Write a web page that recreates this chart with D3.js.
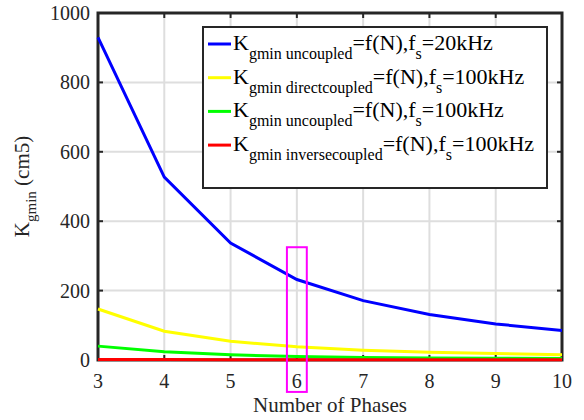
<!DOCTYPE html>
<html>
<head>
<meta charset="utf-8">
<script src="https://cdn.jsdelivr.net/npm/d3@7"></script>
<style>
  body { margin: 0; background: #fff; }
  svg text { font-family: "Liberation Serif", "DejaVu Serif", serif; }
</style>
</head>
<body>
<svg id="chart" width="584" height="420"></svg>
<script>
// Chart data
const phases = [3, 4, 5, 6, 7, 8, 9, 10];
const uncoupled20k = [930, 527, 337, 232, 171, 131, 104, 85];
const direct100k = [147, 83, 54, 38, 28, 22, 19, 15];
const uncoupled100k = [40, 24, 15, 10, 7, 6, 5, 4];
const inverse100k = [1.5, 1.2, 1, 0.9, 0.8, 0.7, 0.6, 0.6];
const xTicks = [3, 4, 5, 6, 7, 8, 9, 10];
const yTicks = [0, 200, 400, 600, 800, 1000];
const highlightBox = { x0: 5.85, x1: 6.15, y0: -92, y1: 325 };

const series = [
  { values: uncoupled20k, color: "#0000ff", sub: "gmin uncoupled", fs: "20kHz" },
  { values: direct100k, color: "#ffff00", sub: "gmin directcoupled", fs: "100kHz" },
  { values: uncoupled100k, color: "#00ff00", sub: "gmin uncoupled", fs: "100kHz" },
  { values: inverse100k, color: "#ff0000", sub: "gmin inversecoupled", fs: "100kHz" }
];

const svg = d3.select("#chart");
const pLeft = 98, pRight = 562, pTop = 13, pBottom = 360;

const x = d3.scaleLinear().domain([3, 10]).range([pLeft, pRight]);
const y = d3.scaleLinear().domain([0, 1000]).range([pBottom, pTop]);

// Grid lines
svg.append("g")
  .selectAll("line")
  .data(xTicks)
  .join("line")
  .attr("x1", d => x(d)).attr("x2", d => x(d))
  .attr("y1", pTop).attr("y2", pBottom)
  .attr("stroke", "#dedede").attr("stroke-width", 2);

svg.append("g")
  .selectAll("line")
  .data(yTicks)
  .join("line")
  .attr("x1", pLeft).attr("x2", pRight)
  .attr("y1", d => y(d)).attr("y2", d => y(d))
  .attr("stroke", "#dedede").attr("stroke-width", 2);

// Tick marks (inside, mirrored on all sides)
const tk = 5;
const ticks = svg.append("g").attr("stroke", "#262626").attr("stroke-width", 2);
xTicks.forEach(d => {
  ticks.append("line").attr("x1", x(d)).attr("x2", x(d)).attr("y1", pBottom).attr("y2", pBottom - tk);
  ticks.append("line").attr("x1", x(d)).attr("x2", x(d)).attr("y1", pTop).attr("y2", pTop + tk);
});
yTicks.forEach(d => {
  ticks.append("line").attr("x1", pLeft).attr("x2", pLeft + tk).attr("y1", y(d)).attr("y2", y(d));
  ticks.append("line").attr("x1", pRight).attr("x2", pRight - tk).attr("y1", y(d)).attr("y2", y(d));
});

// Frame
svg.append("rect")
  .attr("x", pLeft).attr("y", pTop)
  .attr("width", pRight - pLeft).attr("height", pBottom - pTop)
  .attr("fill", "none")
  .attr("stroke", "#262626")
  .attr("stroke-width", 3);

// Lines (drawn over the frame, like the original)
const line = d3.line()
  .x((d, i) => x(phases[i]))
  .y(d => y(d));

series.forEach(s => {
  svg.append("path")
    .datum(s.values)
    .attr("fill", "none")
    .attr("stroke", s.color)
    .attr("stroke-width", 3)
    .attr("d", line);
});

// Highlight rectangle
svg.append("rect")
  .attr("x", x(highlightBox.x0))
  .attr("y", y(highlightBox.y1))
  .attr("width", x(highlightBox.x1) - x(highlightBox.x0))
  .attr("height", y(highlightBox.y0) - y(highlightBox.y1))
  .attr("fill", "none")
  .attr("stroke", "#ff00ff")
  .attr("stroke-width", 2);

// Tick labels
svg.append("g")
  .selectAll("text")
  .data(xTicks)
  .join("text")
  .attr("x", d => x(d))
  .attr("y", pBottom + 28)
  .attr("text-anchor", "middle")
  .attr("font-size", 20)
  .attr("fill", "#262626")
  .text(d => d);

svg.append("g")
  .selectAll("text")
  .data(yTicks)
  .join("text")
  .attr("x", pLeft - 8)
  .attr("y", d => y(d) + 7)
  .attr("text-anchor", "end")
  .attr("font-size", 20)
  .attr("fill", "#262626")
  .text(d => d);

// Axis titles
svg.append("text")
  .attr("x", (pLeft + pRight) / 2)
  .attr("y", 412)
  .attr("text-anchor", "middle")
  .attr("font-size", 21)
  .attr("fill", "#262626")
  .text("Number of Phases");

const yl = svg.append("text")
  .attr("transform", `translate(29, ${(pTop + pBottom) / 2}) rotate(-90)`)
  .attr("text-anchor", "middle")
  .attr("font-size", 21)
  .attr("fill", "#262626");
yl.append("tspan").text("K");
yl.append("tspan").attr("dy", 7).attr("font-size", 15).text("gmin");
yl.append("tspan").attr("dy", -7).text(" (cm5)");

// Legend
const lg = svg.append("g");
lg.append("rect")
  .attr("x", 203).attr("y", 27)
  .attr("width", 344).attr("height", 161)
  .attr("fill", "#fff")
  .attr("stroke", "#262626")
  .attr("stroke-width", 2);

series.forEach((s, i) => {
  const cy = 44 + i * 33.7;
  lg.append("line")
    .attr("x1", 208).attr("x2", 231)
    .attr("y1", cy).attr("y2", cy)
    .attr("stroke", s.color).attr("stroke-width", 3);
  const t = lg.append("text")
    .attr("x", 233).attr("y", cy + 6)
    .attr("font-size", 22)
    .attr("fill", "#000");
  t.append("tspan").text("K");
  t.append("tspan").attr("dy", 9).attr("font-size", 16).text(s.sub);
  t.append("tspan").attr("dy", -9).text("=f(N),f");
  t.append("tspan").attr("dy", 9).attr("font-size", 16).text("s");
  t.append("tspan").attr("dy", -9).text("=" + s.fs);
});
</script>
</body>
</html>
